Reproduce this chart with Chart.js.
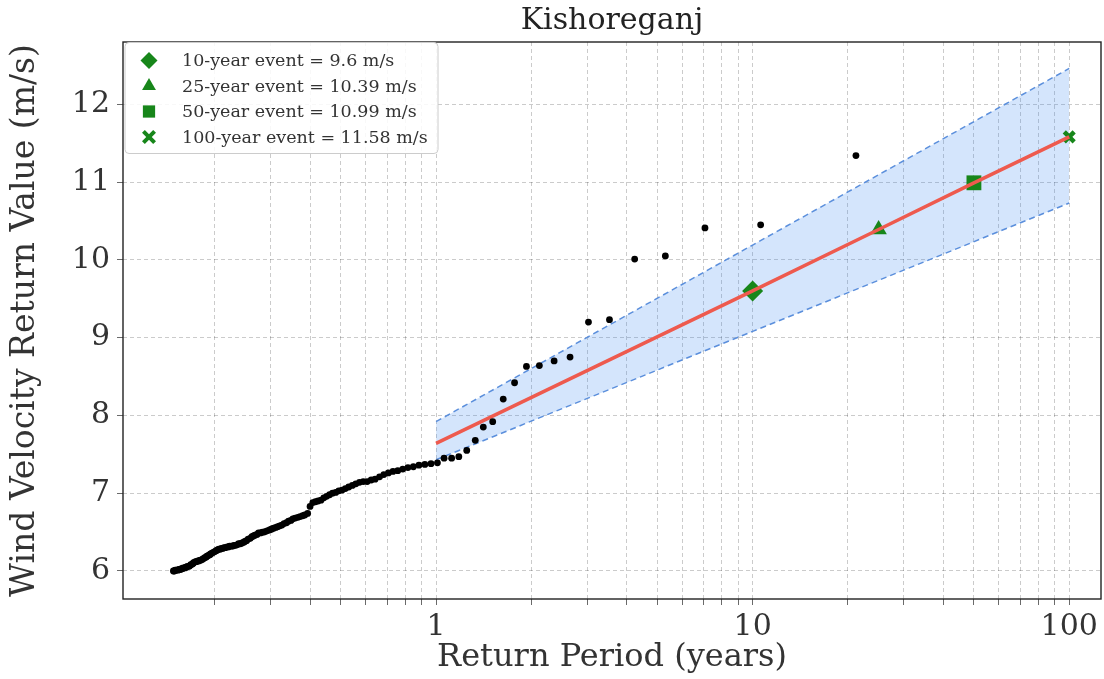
<!DOCTYPE html>
<html>
<head>
<meta charset="utf-8">
<title>Kishoreganj</title>
<script src="https://cdn.jsdelivr.net/npm/chart.js@4.4.1/dist/chart.umd.min.js"></script>
<style>
  html, body { margin: 0; padding: 0; background: #fff; }
</style>
</head>
<body>
<canvas id="return-chart" width="1104" height="679"></canvas>
<script>
// observed series with empirical return periods (years), largest value first
const obsPeriods = [
  21.2, 10.6, 7.07, 5.30, 4.24, 3.53, 3.03, 2.65, 2.36, 2.12,
  1.93, 1.77, 1.63, 1.51, 1.41, 1.33, 1.25, 1.18, 1.12, 1.06,
  1.01, 0.964, 0.922, 0.883, 0.848, 0.815, 0.785, 0.757, 0.731, 0.707,
  0.684, 0.663, 0.642, 0.624, 0.606, 0.589, 0.573, 0.558, 0.544, 0.530,
  0.517, 0.505, 0.493, 0.482, 0.471, 0.461, 0.451, 0.442, 0.433, 0.424,
  0.416, 0.408, 0.400, 0.393, 0.385, 0.379, 0.372, 0.366, 0.359, 0.353,
  0.348, 0.342, 0.337, 0.331, 0.326, 0.321, 0.316, 0.312, 0.307, 0.303,
  0.299, 0.294, 0.290, 0.286, 0.283, 0.279, 0.275, 0.272, 0.268, 0.265,
  0.262, 0.259, 0.255, 0.252, 0.249, 0.247, 0.244, 0.241, 0.238, 0.236,
  0.233, 0.230, 0.228, 0.226, 0.223, 0.221, 0.219, 0.216, 0.214, 0.212,
  0.210, 0.208, 0.206, 0.204, 0.202, 0.200, 0.198, 0.196, 0.194, 0.193,
  0.191, 0.189, 0.188, 0.186, 0.184, 0.183, 0.181, 0.180, 0.178, 0.177,
  0.175, 0.174, 0.172, 0.171, 0.170, 0.168, 0.167, 0.166, 0.164, 0.163,
  0.162, 0.161, 0.159, 0.158, 0.157, 0.156, 0.155, 0.154, 0.153, 0.151,
  0.150, 0.149, 0.148
];
const obsSpeeds = [
  11.34, 10.45, 10.41, 10.05, 10.01, 9.23, 9.20, 8.75, 8.70, 8.64,
  8.63, 8.42, 8.21, 7.92, 7.85, 7.68, 7.55, 7.47, 7.45, 7.45,
  7.39, 7.38, 7.37, 7.36, 7.34, 7.33, 7.31, 7.29, 7.28, 7.26,
  7.24, 7.21, 7.18, 7.17, 7.15, 7.15, 7.14, 7.12, 7.10, 7.08,
  7.06, 7.04, 7.03, 7.01, 7.00, 6.98, 6.96, 6.94, 6.91, 6.90,
  6.89, 6.88, 6.83, 6.74, 6.72, 6.71, 6.70, 6.69, 6.68, 6.67,
  6.65, 6.64, 6.62, 6.61, 6.59, 6.58, 6.57, 6.56, 6.55, 6.54,
  6.53, 6.52, 6.51, 6.50, 6.50, 6.49, 6.49, 6.47, 6.46, 6.45,
  6.44, 6.42, 6.41, 6.39, 6.38, 6.37, 6.36, 6.35, 6.35, 6.34,
  6.33, 6.33, 6.32, 6.32, 6.32, 6.31, 6.31, 6.30, 6.30, 6.29,
  6.29, 6.28, 6.28, 6.27, 6.26, 6.25, 6.24, 6.23, 6.22, 6.21,
  6.20, 6.19, 6.18, 6.17, 6.16, 6.15, 6.14, 6.14, 6.13, 6.13,
  6.12, 6.12, 6.11, 6.10, 6.09, 6.08, 6.07, 6.06, 6.06, 6.05,
  6.05, 6.04, 6.04, 6.03, 6.03, 6.02, 6.02, 6.02, 6.01, 6.01,
  6.01, 6.00, 6.00
];

// fitted return level curve
const fitPeriods = [1, 10, 25, 50, 100];
const fitSpeeds = [7.64, 9.6, 10.39, 10.99, 11.58];

// confidence band
const bandPeriods = [1, 10, 100];
const bandUpper = [7.92, 10.19, 12.46];
const bandLower = [7.43, 9.08, 10.73];

// design events
const eventPeriods = [10, 25, 50, 100];
const eventSpeeds = [9.6, 10.39, 10.99, 11.58];
const eventMarkers = ["rectRot", "triangle", "rect", "crossRot"];

// axis ticks
const xGridValues = [
  0.2, 0.3, 0.4, 0.5, 0.6, 0.7, 0.8, 0.9,
  1, 2, 3, 4, 5, 6, 7, 8, 9,
  10, 20, 30, 40, 50, 60, 70, 80, 90, 100
];
const xTickLabels = [1, 10, 100];
const yTickValues = [6, 7, 8, 9, 10, 11, 12];

const FONT = "'DejaVu Serif', 'Liberation Serif', serif";
const GREEN = "#17861a";
const TITLE = "Kishoreganj";

function toPoints(xs, ys) {
  return xs.map((x, i) => ({ x: x, y: ys[i] }));
}

function markerPath(ctx, style, x, y, r) {
  ctx.beginPath();
  if (style === "rectRot") {
    ctx.moveTo(x, y - r);
    ctx.lineTo(x + r, y);
    ctx.lineTo(x, y + r);
    ctx.lineTo(x - r, y);
    ctx.closePath();
  } else if (style === "triangle") {
    ctx.moveTo(x, y - r);
    ctx.lineTo(x + r * 0.866, y + r * 0.5);
    ctx.lineTo(x - r * 0.866, y + r * 0.5);
    ctx.closePath();
  } else if (style === "rect") {
    ctx.rect(x - r * 0.72, y - r * 0.72, r * 1.44, r * 1.44);
  } else {
    const d = r * 0.62;
    ctx.moveTo(x - d, y - d);
    ctx.lineTo(x + d, y + d);
    ctx.moveTo(x + d, y - d);
    ctx.lineTo(x - d, y + d);
  }
}

// frame on all four sides plus the title centred over the plot
const frame = {
  id: "frame",
  afterDatasetsDraw(chart) {
    const { ctx, chartArea: a } = chart;
    ctx.save();
    ctx.strokeStyle = "#222";
    ctx.lineWidth = 1.4;
    ctx.strokeRect(a.left, a.top, a.right - a.left, a.bottom - a.top);
    ctx.fillStyle = "#222";
    ctx.font = "30px " + FONT;
    ctx.textAlign = "center";
    ctx.textBaseline = "middle";
    ctx.fillText(TITLE, (a.left + a.right) / 2, 21);
    ctx.restore();
  }
};

// legend in the upper left corner of the plot
const eventLegend = {
  id: "eventLegend",
  afterDatasetsDraw(chart) {
    const { ctx, chartArea: a } = chart;
    const left = a.left + 2, top = a.top + 0.5, w = 313, h = 111, rad = 4;
    ctx.save();
    ctx.beginPath();
    ctx.moveTo(left + rad, top);
    ctx.arcTo(left + w, top, left + w, top + h, rad);
    ctx.arcTo(left + w, top + h, left, top + h, rad);
    ctx.arcTo(left, top + h, left, top, rad);
    ctx.arcTo(left, top, left + w, top, rad);
    ctx.closePath();
    ctx.fillStyle = "rgba(255,255,255,0.85)";
    ctx.fill();
    ctx.strokeStyle = "#cccccc";
    ctx.lineWidth = 1;
    ctx.stroke();

    const sizes = { rectRot: 8.5, triangle: 8, rect: 8.5, crossRot: 9 };
    chart.data.datasets.forEach((ds) => {
      if (ds.legendRow === undefined) return;
      const cy = top + 18 + ds.legendRow * 25.5;
      const cx = left + 24;
      markerPath(ctx, ds.pointStyle, cx, cy, sizes[ds.pointStyle]);
      if (ds.pointStyle === "crossRot") {
        ctx.strokeStyle = GREEN;
        ctx.lineWidth = 4;
        ctx.stroke();
      } else {
        ctx.fillStyle = GREEN;
        ctx.fill();
      }
      ctx.fillStyle = "#333";
      ctx.font = "17.5px " + FONT;
      ctx.textBaseline = "middle";
      ctx.textAlign = "left";
      ctx.fillText(ds.label, left + 57, cy + 1);
    });
    ctx.restore();
  }
};

const eventSets = eventPeriods.map((p, i) => ({
  type: "scatter",
  label: p + "-year event = " + eventSpeeds[i] + " m/s",
  data: [{ x: p, y: eventSpeeds[i] }],
  pointStyle: eventMarkers[i],
  pointRadius: [10.5, 9.5, 10.5, 7][i],
  backgroundColor: GREEN,
  borderColor: GREEN,
  borderWidth: eventMarkers[i] === "crossRot" ? 4.5 : 0,
  legendRow: i,
  order: 2
}));

const ctx = document.getElementById("return-chart").getContext("2d");
new Chart(ctx, {
  type: "scatter",
  data: {
    datasets: [
      {
        type: "scatter",
        label: "Observed",
        data: toPoints(obsPeriods, obsSpeeds),
        pointRadius: 3.4,
        backgroundColor: "#000",
        borderWidth: 0,
        order: 0
      },
      {
        type: "line",
        label: "Fit",
        data: toPoints(fitPeriods, fitSpeeds),
        borderColor: "#ee5a4e",
        borderWidth: 3.5,
        pointRadius: 0,
        fill: false,
        order: 1
      },
      ...eventSets,
      {
        type: "line",
        label: "Upper",
        data: toPoints(bandPeriods, bandUpper),
        borderColor: "#5b8fdc",
        borderWidth: 1.5,
        borderDash: [6, 4],
        pointRadius: 0,
        fill: false,
        order: 3
      },
      {
        type: "line",
        label: "Lower",
        data: toPoints(bandPeriods, bandLower),
        borderColor: "#5b8fdc",
        borderWidth: 1.5,
        borderDash: [6, 4],
        pointRadius: 0,
        fill: { target: 6 },
        backgroundColor: "rgba(40,125,240,0.2)",
        order: 4
      }
    ]
  },
  options: {
    responsive: false,
    animation: false,
    layout: { autoPadding: false, padding: { top: 42, right: 3 } },
    plugins: {
      legend: { display: false },
      tooltip: { enabled: false },
      title: { display: false }
    },
    scales: {
      x: {
        type: "logarithmic",
        min: 0.1026,
        max: 126,
        bounds: "data",
        afterBuildTicks(scale) {
          scale.ticks = xGridValues.map((v) => ({ value: v }));
        },
        afterFit(scale) {
          scale.height = 80;
          scale.paddingLeft = 0;
          scale.paddingRight = 0;
        },
        ticks: {
          autoSkip: false,
          maxRotation: 0,
          padding: 4,
          color: "#333",
          font: { family: FONT, size: 30 },
          callback: (v) => (xTickLabels.includes(v) ? String(v) : "")
        },
        grid: {
          color: "rgba(0,0,0,0.26)",
          lineWidth: 0.8,
          tickLength: 6,
          tickColor: "#444",
          tickBorderDash: []
        },
        border: { display: false, dash: [4, 3] },
        title: {
          display: true,
          text: "Return Period (years)",
          color: "#333",
          font: { family: FONT, size: 32 },
          padding: { top: 0, bottom: 2 }
        }
      },
      y: {
        type: "linear",
        min: 5.64,
        max: 12.8,
        bounds: "data",
        afterBuildTicks(scale) {
          scale.ticks = yTickValues.map((v) => ({ value: v }));
        },
        afterFit(scale) {
          scale.width = 123;
        },
        ticks: {
          padding: 7,
          color: "#333",
          font: { family: FONT, size: 30 }
        },
        grid: {
          color: "rgba(0,0,0,0.26)",
          lineWidth: 0.8,
          tickLength: 6,
          tickColor: "#444",
          tickBorderDash: []
        },
        border: { display: false, dash: [4, 3] },
        title: {
          display: true,
          text: "Wind Velocity Return Value (m/s)",
          color: "#333",
          font: { family: FONT, size: 33 },
          padding: { top: 6, bottom: 0 }
        }
      }
    }
  },
  plugins: [frame, eventLegend]
});
</script>
</body>
</html>
